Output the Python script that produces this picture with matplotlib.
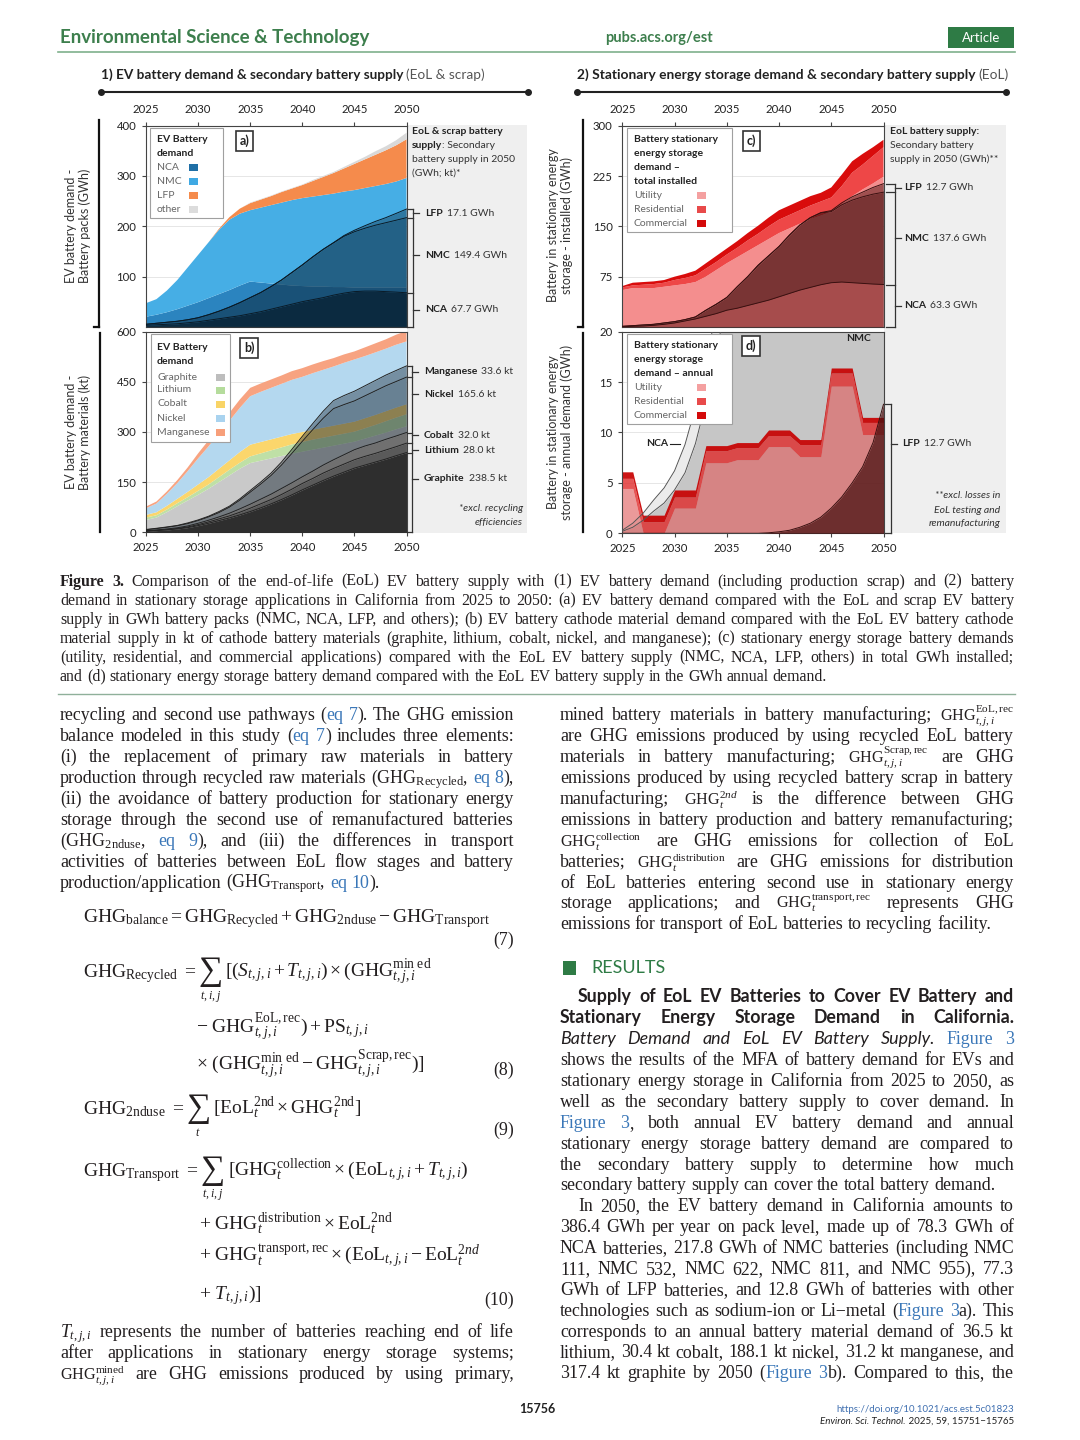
import matplotlib
matplotlib.use('Agg')
import matplotlib.pyplot as plt
import matplotlib.transforms as mtransforms
from matplotlib.patches import Rectangle
from matplotlib.lines import Line2D
import numpy as np

plt.rcParams['mathtext.fontset'] = 'custom'
plt.rcParams['mathtext.rm'] = 'Liberation Serif'
plt.rcParams['mathtext.it'] = 'Liberation Serif:italic'
plt.rcParams['mathtext.bf'] = 'Liberation Serif:bold'
plt.rcParams['mathtext.sf'] = 'Liberation Serif'
plt.rcParams['font.family'] = ['Lato', 'DejaVu Sans']

# ---------------------------------------------------------------- data
years = list(range(2025, 2051))
year_ticks = [2025, 2030, 2035, 2040, 2045, 2050]

# (a) EV battery demand, GWh
a_nca = [20, 24, 29, 35, 42, 49, 57, 65, 73, 82, 90, 88, 86, 84, 82, 81, 80, 80, 79, 79, 78, 78, 78, 78, 78, 78]
a_nmc = [27, 31, 43, 58, 76, 94, 111, 128, 140, 143, 142, 149, 156, 163, 170, 175, 179, 182, 186, 190, 194, 198, 202, 206, 211, 218]
a_lfp = [0, 0, 0, 0, 0, 0, 0, 2, 5, 10, 14, 16, 18, 21, 23, 26, 31, 36, 41, 46, 52, 57, 62, 67, 72, 77]
a_other = [0, 0, 0, 0, 0, 0, 0, 0, 0, 0, 1, 1, 1, 1, 1, 1, 2, 2, 2, 3, 4, 5, 7, 8, 10, 13]
a_eol_nca = [3, 4, 5, 6, 8, 10, 13, 16, 19, 22, 26, 30, 35, 40, 45, 50, 54, 58, 63, 67, 70, 71, 71, 70, 69, 67.7]
a_eol_nmc = [2, 3, 4, 5, 6, 8, 11, 15, 20, 26, 32, 38, 45, 53, 63, 73, 85, 96, 104, 113, 119, 125, 131, 137, 143, 149.4]
a_eol_lfp = [0, 0, 0, 0, 0, 0, 0, 0, 0, 0, 0, 0, 0, 0, 0, 0, 0, 0, 0.5, 1.5, 3, 5, 7.5, 10, 13.5, 17.1]
a_names = ['NCA', 'NMC', 'LFP', 'other']
a_eol_names = ['NCA', 'NMC', 'LFP']
a_eol_units = ['67.7 GWh', '149.4 GWh', '17.1 GWh']

# (b) EV battery materials, kt
b_graphite = [37, 44, 60, 78, 95, 112, 130, 150, 170, 190, 207, 214, 221, 228, 235, 241, 247, 253, 259, 265, 271, 280, 289, 298, 308, 317]
b_lithium = [7, 7, 8, 9, 10, 12, 13, 15, 17, 18, 20, 22, 24, 26, 28, 29, 30, 30, 30, 30, 30, 31, 32, 34, 35, 36]
b_cobalt = [8, 9, 11, 13, 16, 19, 22, 25, 28, 32, 35, 34, 33, 32, 31, 30, 30, 30, 30, 30, 30, 30, 30, 30, 30, 30]
b_nickel = [20, 26, 36, 47, 62, 78, 92, 106, 118, 132, 145, 150, 154, 158, 162, 165, 169, 173, 177, 182, 186, 186, 187, 187, 188, 188]
b_manganese = [5, 6, 7, 9, 11, 15, 18, 21, 24, 25, 25, 25, 25, 25, 26, 26, 26, 26, 25, 25, 24, 26, 27, 28, 30, 31]
b_eol_graphite = [3, 5, 7, 10, 14, 20, 27, 35, 43, 52, 62, 73, 85, 98, 112, 127, 141, 155, 168, 180, 192, 201, 210, 219, 229, 238.5]
b_eol_lithium = [0.5, 1, 1, 1.5, 2, 3, 4, 5, 6, 8, 10, 12, 13, 15, 17, 19, 20, 22, 23, 24, 25, 26, 26, 27, 27, 28]
b_eol_cobalt = [1, 1, 2, 2, 3, 4, 5, 6, 8, 10, 12, 14, 16, 18, 19, 20, 22, 24, 26, 28, 30, 31, 31, 32, 32, 32]
b_eol_nickel = [3, 4, 5, 6, 7, 8, 10, 13, 18, 26, 36, 45, 56, 70, 88, 106, 124, 140, 153, 150, 146, 150, 156, 160, 163, 165.6]
b_eol_manganese = [1, 1, 1, 1, 2, 2, 2, 3, 3, 4, 5, 6, 7, 9, 12, 15, 18, 21, 24, 27, 29, 30, 31, 32, 33, 33.6]
b_names = ['Graphite', 'Lithium', 'Cobalt', 'Nickel', 'Manganese']
b_eol_units = ['238.5 kt', '28.0 kt', '32.0 kt', '165.6 kt', '33.6 kt']

# (c) stationary storage, total installed GWh
c_utility = [55, 58, 58, 58, 60, 62, 64, 67, 75, 85, 95, 104, 113, 122, 131, 140, 147, 154, 161, 166, 172, 183, 195, 205, 214, 224]
c_residential = [4, 4, 5, 6, 6, 8, 9, 10, 12, 12, 13, 14, 16, 17, 19, 20, 20, 20, 20, 21, 21, 27, 35, 37, 41, 44]
c_commercial = [2, 4, 4, 4, 4, 5, 6, 7, 8, 9, 9, 10, 11, 12, 13, 14, 14, 14, 14, 13, 15, 17, 17, 16, 13, 11]
c_eol_nca = [0.5, 1, 1.5, 2.5, 4, 6, 9, 12, 16, 20, 25, 28, 32, 36, 40, 45, 50, 55, 59, 63, 66, 67, 66, 65, 64, 63.3]
c_eol_nmc = [0.5, 1, 1.5, 1.5, 2, 2, 2, 3, 9, 14, 19, 32, 43, 56, 66, 75, 87, 97, 104, 107, 106, 115, 123, 129, 134, 137.6]
c_eol_lfp = [0, 0, 0, 0, 0, 0, 0, 0, 0, 0, 0, 0, 0, 0, 0, 0, 0, 0, 0, 0.5, 1.5, 3, 5, 7, 10, 12.7]
c_names = ['Utility', 'Residential', 'Commercial']
c_eol_names = ['NCA', 'NMC', 'LFP']
c_eol_units = ['63.3 GWh', '137.6 GWh', '12.7 GWh']

# (d) stationary storage, annual demand GWh
d_utility = [4.45, 4.45, 0, 0, 0, 2.5, 2.5, 2.5, 7.0, 7.0, 7.0, 7.3, 7.3, 7.3, 8.6, 8.6, 8.6, 7.6, 7.6, 7.6, 14.6, 14.6, 14.6, 9.8, 9.8, 9.8]
d_residential = [1.0, 1.0, 1.15, 1.15, 1.15, 1.1, 1.1, 1.1, 1.2, 1.2, 1.2, 1.2, 1.2, 1.2, 1.1, 1.1, 1.1, 1.2, 1.2, 1.2, 1.3, 1.3, 1.3, 1.2, 1.2, 1.2]
d_commercial = [0.65, 0.65, 0.65, 0.65, 0.65, 0.7, 0.7, 0.7, 0.5, 0.5, 0.5, 0.5, 0.5, 0.5, 0.55, 0.55, 0.55, 0.5, 0.5, 0.5, 0.5, 0.5, 0.5, 0.5, 0.5, 0.5]
d_eol_lfp = [0, 0, 0, 0, 0, 0, 0, 0, 0, 0, 0, 0, 0, 0, 0.05, 0.15, 0.3, 0.6, 1.0, 1.6, 2.5, 3.6, 5.0, 6.6, 9.0, 12.8]
d_eol_nmc = [0.2, 0.6, 1.3, 2.2, 3.0, 4.3, 6.0, 8.9, 13, 18, 23, 25, 25, 25, 25, 25, 25, 25, 25, 25, 25, 25, 25, 25, 25, 25]
d_eol_nca = [0.1, 0.4, 0.7, 1.1, 1.5, 1.9, 2.8, 3.6, 4, 4, 4, 4, 4, 4, 4, 4, 4, 4, 4, 4, 4, 4, 4, 4, 4, 4]

# ---------------------------------------------------------------- figure helpers
W, H = 1080, 1440
fig = plt.figure(figsize=(W / 100, H / 100), dpi=100)
fig.patch.set_facecolor('white')
RND = fig.canvas.get_renderer()

SERIF = ['Liberation Serif', 'DejaVu Serif']
SANS = ['Lato', 'DejaVu Sans']
TXT = '#231f20'
LINK = '#3a77b8'
GREEN = '#2e7b45'
CS = 7.5   # chart annotation size


def fx(x):
    return x / W


def fy(y):
    return 1 - y / H


def tw(t):
    return t.get_window_extent(renderer=RND).width


def add_ax(l, t, r, b):
    return fig.add_axes([fx(l), fy(b), (r - l) / W, (b - t) / H])


def seq_text(x, yc, segs, size, family=SANS, ha='left', color='#333', zorder=5, va='center'):
    objs = []
    for s, kw in segs:
        k = dict(fontsize=size, family=family, color=color, va=va, ha='left', zorder=zorder)
        k.update(kw)
        t = fig.text(0, fy(yc), s, **k)
        objs.append((t, tw(t)))
    total = sum(w for _, w in objs)
    cx = x - total if ha == 'right' else (x - total / 2 if ha == 'center' else x)
    for t, w in objs:
        t.set_x(fx(cx))
        cx += w
    return objs


def make_word(word, size, family, weight, style, color, ybase):
    out = []
    for seg in word.split('§'):
        fam, wt, st, col = family, weight, style, color
        sz = size
        if seg.startswith('@'):
            col, fam, wt, st = LINK, SERIF, 'normal', 'normal'
            seg = seg[1:]
        elif seg.startswith('!'):
            wt = 'bold'
            seg = seg[1:]
        elif seg.startswith('%'):
            fam, st, wt = SANS, 'italic', 'normal'
            seg = seg[1:]
        if '$' in seg and '^' in seg:
            sz = size * 0.9
        t = fig.text(0, fy(ybase), seg, fontsize=sz, family=fam, fontweight=wt,
                     fontstyle=st, color=col, va='baseline', ha='left')
        out.append((t, tw(t)))
    return out


def draw_line(line, x0, x1, yc, size, family=SERIF, weight='normal', style='normal',
              justify=True, color=TXT):
    ybase = yc + size * 100 / 72 * 0.30
    s = size
    while True:
        words = [make_word(w, s, family, weight, style, color, ybase) for w in line.split(' ')]
        widths = [sum(w for _, w in ws) for ws in words]
        space = s * 100 / 72 * 0.25
        n = len(words)
        gap = (x1 - x0 - sum(widths)) / (n - 1) if (justify and n > 1) else space
        if gap >= space * 0.7 or s < size * 0.84:
            break
        for ws in words:
            for t, _ in ws:
                t.remove()
        s *= 0.98
    x = x0
    for ws, wd in zip(words, widths):
        cx = x
        for t, w in ws:
            t.set_x(fx(cx))
            cx += w
        x += wd + gap


def fig_line(xs, ys, **kw):
    fig.lines.append(Line2D([fx(v) for v in xs], [fy(v) for v in ys],
                            transform=fig.transFigure, **kw))


def fig_rect(x0, y0, x1, y1, **kw):
    fig.patches.append(Rectangle((fx(x0), fy(y1)), (x1 - x0) / W, (y1 - y0) / H,
                                 transform=fig.transFigure, **kw))


def style_ax(ax, ylim, yticks, top):
    ax.set_xlim(2025, 2050)
    ax.set_ylim(*ylim)
    ax.set_xticks(year_ticks)
    ax.set_yticks(yticks)
    if top:
        ax.xaxis.tick_top()
        ax.tick_params(axis='x', pad=5)
    else:
        ax.tick_params(axis='x', pad=4)
    ax.tick_params(length=3, width=0.8, color='#444', labelsize=8.2, labelcolor='#222', direction='out')
    ax.tick_params(axis='y', pad=4)
    for sp in ax.spines.values():
        sp.set_color('#444')
        sp.set_linewidth(0.8)
    ax.grid(axis='y', color='#e6e6e6', lw=0.7)
    ax.set_axisbelow(True)


def bracket(ax, xb, xcap, xtick, bounds, ticks):
    tr = mtransforms.blended_transform_factory(fig.transFigure, ax.transData)
    kw = dict(transform=tr, color='#333', lw=0.9, clip_on=False, zorder=6)
    ax.add_line(Line2D([fx(xb)] * 2, [min(bounds), max(bounds)], **kw))
    for b in bounds:
        ax.add_line(Line2D([fx(xcap), fx(xb)], [b, b], **kw))
    for v in ticks:
        ax.add_line(Line2D([fx(xb), fx(xtick)], [v, v], **kw))


def side_label(ax, x, v, bold, rest, size=CS):
    tr = mtransforms.blended_transform_factory(fig.transFigure, ax.transData)
    t1 = ax.text(fx(x), v, bold, transform=tr, fontsize=size, fontweight='bold', color='#222',
                 va='center', ha='left', clip_on=False)
    w = tw(t1)
    ax.text(fx(x + w + 4), v, rest, transform=tr, fontsize=size, color='#333',
            va='center', ha='left', clip_on=False)


def legend_box(x0, y0, x1, y1, title, ty, entries, ey, tx, swx, colors):
    fig_rect(x0, y0, x1, y1, fc='white', ec='#a0a0a0', lw=0.8, zorder=20)
    for s, y in zip(title, ty):
        fig.text(fx(tx), fy(y), s, fontsize=7.5, fontweight='bold', color='#222',
                 va='center', ha='left', zorder=21)
    for s, y, c in zip(entries, ey, colors):
        fig.text(fx(tx), fy(y), s, fontsize=7.5, color='#666', va='center', ha='left', zorder=21)
        fig_rect(swx, y - 3.5, swx + 9, y + 3.5, fc=c, ec='none', zorder=21)


def panel_tag(ax, xf, yf, s):
    ax.text(xf, yf, s, transform=ax.transAxes, fontsize=9, fontweight='bold', color='#222',
            ha='center', va='center', zorder=8,
            bbox=dict(boxstyle='square,pad=0.3', fc='white', ec='#333', lw=1.2))


def eol_stack(ax, series, colors, alphas, edge, zorder=3):
    base = np.zeros(len(years))
    tops = []
    for vals, col, al in zip(series, colors, alphas):
        top = base + np.array(vals, dtype=float)
        ax.fill_between(years, base, top, color=col, alpha=al, lw=0, zorder=zorder)
        ax.plot(years, top, color=edge, lw=0.7, zorder=zorder + 0.5)
        tops.append(top)
        base = top
    return tops


def equation(x, yb, parts, size):
    """parts: list of ('m', mathtext) or ('S', limits) pieces laid out left to right."""
    cx = x
    for kind, s in parts:
        if kind == 'm':
            t = fig.text(fx(cx), fy(yb), s, fontsize=size, family=SERIF, color=TXT,
                         va='baseline', ha='left')
            cx += tw(t) + 2
        else:
            t = fig.text(fx(cx), fy(yb + 3), '\u2211', fontsize=size * 1.75, family=SERIF,
                         color=TXT, va='baseline', ha='left')
            w = tw(t)
            fig.text(fx(cx + w / 2), fy(yb + 19), s, fontsize=size * 0.62, family=SERIF,
                     color=TXT, va='center', ha='center')
            cx += w + 3


# ---------------------------------------------------------------- page header
t = fig.text(fx(60), fy(37), 'Environmental Science & Technology', fontsize=13, family=SANS,
             fontweight='bold', color='#3d7f4d', va='center', ha='left')
t.set_fontsize(13 * 310 / tw(t))
t = fig.text(fx(605), fy(38), 'pubs.acs.org/est', fontsize=10, family=SANS, fontweight='bold',
             color='#3d7f4d', va='center', ha='left')
t.set_fontsize(10 * 107 / tw(t))
fig_rect(948, 27, 1014, 48, fc=GREEN, ec='none')
fig.text(fx(981), fy(38), 'Article', fontsize=9.5, family=SANS, color='white', va='center', ha='center')
fig_line([58, 1015], [52, 52], color='#7fb08c', lw=1.2)

# ---------------------------------------------------------------- chart group titles
for (x0, x1, yl, bold, rest, bw) in [
        (101, 528, 92, '1) EV battery demand & secondary battery supply', '(EoL & scrap)', 301),
        (577, 1006, 92, '2) Stationary energy storage demand & secondary battery supply', '(EoL)', 397)]:
    t = fig.text(fx(x0), fy(75), bold, fontsize=9, family=SANS, fontweight='bold', color='#222',
                 va='center', ha='left')
    s = 9 * bw / tw(t)
    t.set_fontsize(s)
    fig.text(fx(x0 + bw + 4), fy(75), rest, fontsize=s, family=SANS, color='#555', va='center', ha='left')
    fig_line([x0, x1], [yl, yl], color='#222', lw=1.5)
    fig.lines.append(Line2D([fx(x0), fx(x1)], [fy(yl)] * 2, transform=fig.transFigure, lw=0,
                            marker='o', ms=4, color='#222'))

# grey side areas
fig_rect(406.5, 125, 527, 533, fc='#efefef', ec='none', zorder=-1)
fig_rect(884, 125, 1006, 533, fc='#efefef', ec='none', zorder=-1)

# left y-label brackets
for xb, (y0, y1) in [(99, (120, 327)), (100, (333, 532)), (583, (120, 327)), (583, (333, 532))]:
    fig_line([xb, xb], [y0, y1], color='#111', lw=1.6)
fig_line([94, 99], [327, 327], color='#111', lw=1.6)
fig_line([578, 583], [327, 327], color='#111', lw=1.6)
for x, y, s in [(78, 226, 'EV battery demand -\nBattery packs (GWh)'),
                (78, 432, 'EV battery demand -\nBattery materials (kt)'),
                (560, 225, 'Battery in stationary energy\nstorage - installed (GWh)'),
                (560, 432, 'Battery in stationary energy\nstorage - annual demand (GWh)')]:
    fig.text(fx(x), fy(y), s, rotation=90, fontsize=9, color='#333', ha='center', va='center',
             multialignment='center', linespacing=1.2)

# ---------------------------------------------------------------- panel a
axa = add_ax(146, 125.7, 406.5, 326.8)
axa.stackplot(years, a_nca, a_nmc, a_lfp, a_other,
              colors=['#2b84bf', '#46aee5', '#f58b4c', '#d9d9d9'], lw=0, zorder=1)
ta = eol_stack(axa, [a_eol_nca, a_eol_nmc, a_eol_lfp], ['#071e2e', '#0d2f47', '#0d2f47'],
               [0.88, 0.6, 0.42], '#0a1a26')
style_ax(axa, (0, 400), [100, 200, 300, 400], top=True)
panel_tag(axa, 0.377, 0.924, 'a)')
bnds = [0] + [tp[-1] for tp in ta]
bracket(axa, 413, 407, 419, bnds, [(bnds[i] + bnds[i + 1]) / 2 for i in range(3)])
for i in range(3):
    side_label(axa, 425, (bnds[i] + bnds[i + 1]) / 2, a_eol_names[i], a_eol_units[i])
seq_text(412, 131, [('EoL & scrap battery', dict(fontweight='bold', color='#222'))], CS)
seq_text(412, 145, [('supply', dict(fontweight='bold', color='#222')), (': Secondary', {})], CS)
seq_text(412, 159, [('battery supply in 2050', {})], CS)
seq_text(412, 173, [('(GWh; kt)*', {})], CS)
legend_box(150, 128, 223, 218, ['EV Battery', 'demand'], [140, 154], a_names, [167, 181, 195, 209],
           157, 189, ['#1f6fa6', '#3fa9e3', '#f58b4c', '#dcdcdc'])

# ---------------------------------------------------------------- panel b
axb = add_ax(146, 331.7, 406.5, 532.3)
axb.stackplot(years, b_graphite, b_lithium, b_cobalt, b_nickel, b_manganese,
              colors=['#c9c9c9', '#bfe0a6', '#fbd66c', '#b4d8ef', '#f7a381'], lw=0, zorder=1)
tb = eol_stack(axb, [b_eol_graphite, b_eol_lithium, b_eol_cobalt, b_eol_nickel, b_eol_manganese],
               ['#262626', '#303030', '#353535', '#1e2c38', '#1e2c38'],
               [0.95, 0.72, 0.6, 0.5, 0.42], '#222222')
style_ax(axb, (0, 600), [0, 150, 300, 450, 600], top=False)
panel_tag(axb, 0.396, 0.919, 'b)')
bb = [0] + [tp[-1] for tp in tb]
b_label_pos = [160, 246, 291, 413, 480]
bracket(axb, 412, 407, 418, bb, b_label_pos)
for i in range(5):
    side_label(axb, 424, b_label_pos[i], b_names[i], b_eol_units[i])
for y, s in [(508, '*excl. recycling'), (522, 'efficiencies')]:
    fig.text(fx(523), fy(y), s, fontsize=CS, fontstyle='italic', color='#333', ha='right', va='center')
legend_box(151, 334, 230, 442, ['EV Battery', 'demand'], [348, 362], b_names,
           [377, 390, 404, 418, 432], 157, 216,
           ['#bdbdbd', '#b5dc9c', '#f9d466', '#a9d3ef', '#f79f7a'])

# ---------------------------------------------------------------- panel c
axc = add_ax(622.3, 125.7, 883.5, 327)
axc.stackplot(years, c_utility, c_residential, c_commercial,
              colors=['#f48e8e', '#ee4747', '#d90c0c'], lw=0, zorder=1)
tc = eol_stack(axc, [c_eol_nca, c_eol_nmc, c_eol_lfp], ['#5a0c0c', '#3a0606', '#3a0606'],
               [0.5, 0.66, 0.45], '#3a1010')
style_ax(axc, (0, 300), [75, 150, 225, 300], top=True)
panel_tag(axc, 0.493, 0.925, 'c)')
bc = [0] + [tp[-1] for tp in tc]
bracket(axc, 895, 886, 901, bc, [(bc[i] + bc[i + 1]) / 2 for i in range(3)])
for i in range(3):
    side_label(axc, 904, (bc[i] + bc[i + 1]) / 2, c_eol_names[i], c_eol_units[i])
seq_text(890, 131, [('EoL battery supply:', dict(fontweight='bold', color='#222'))], CS)
seq_text(890, 145, [('Secondary battery', {})], CS)
seq_text(890, 159, [('supply in 2050 (GWh)**', {})], CS)
legend_box(627, 128, 732, 232, ['Battery stationary', 'energy storage', 'demand \u2013', 'total installed'],
           [140, 154, 168, 182], c_names, [195, 209, 223], 634, 697,
           ['#f4a0a0', '#e84a4a', '#d40a0a'])

# ---------------------------------------------------------------- panel d
axd = add_ax(622.3, 331.7, 883.5, 533.3)
lf = np.array(d_eol_lfp, dtype=float)
nm_top = lf + np.array(d_eol_nmc, dtype=float)
nc_top = nm_top + np.array(d_eol_nca, dtype=float)
axd.fill_between(years, lf, nm_top, color='#c6c6c6', lw=0, zorder=1)
axd.fill_between(years, nm_top, nc_top, color='#ebebeb', lw=0, zorder=1)
u = np.array(d_utility, dtype=float)
r = u + np.array(d_residential, dtype=float)
cm = r + np.array(d_commercial, dtype=float)
axd.fill_between(years, 0, u, color='#e05c5c', alpha=0.62, lw=0, zorder=2)
axd.fill_between(years, u, r, color='#e02a2a', alpha=0.8, lw=0, zorder=2)
axd.fill_between(years, r, cm, color='#c80000', alpha=0.92, lw=0, zorder=2)
axd.plot(years, nm_top, color='#555', lw=0.7, zorder=4)
axd.plot(years, nc_top, color='#555', lw=0.7, zorder=4)
axd.fill_between(years, 0, lf, color='#4a1010', alpha=0.78, lw=0, zorder=3)
axd.plot(years, lf, color='#3a1010', lw=0.7, zorder=4)
style_ax(axd, (0, 20), [0, 5, 10, 15, 20], top=False)
panel_tag(axd, 0.493, 0.929, 'd)')
bracket(axd, 891, 885, 897, [0, d_eol_lfp[-1]], [8.9])
side_label(axd, 902, 8.9, 'LFP', '12.7 GWh')
axd.text(2047.6, 19.3, 'NMC', fontsize=CS, fontweight='bold', color='#222', ha='center', va='center', zorder=6)
axd.text(2029.4, 8.9, 'NCA', fontsize=CS, fontweight='bold', color='#222', ha='right', va='center', zorder=6)
axd.plot([2029.57, 2030.5], [8.9, 8.9], color='#222', lw=0.8, zorder=6)
for y, s in [(496, '**excl. losses in'), (510, 'EoL testing and'), (524, 'remanufacturing')]:
    fig.text(fx(1000), fy(y), s, fontsize=CS, fontstyle='italic', color='#333', ha='right', va='center')
legend_box(627, 334, 732, 424, ['Battery stationary', 'energy storage', 'demand \u2013 annual'],
           [346, 360, 373], c_names, [387, 401, 415], 634, 697,
           ['#f4a0a0', '#e84a4a', '#d40a0a'])

# ---------------------------------------------------------------- caption
cap = [
    '!Figure !3. Comparison of the end-of-life (EoL) EV battery supply with (1) EV battery demand (including production scrap) and (2) battery',
    'demand in stationary storage applications in California from 2025 to 2050: (a) EV battery demand compared with the EoL and scrap EV battery',
    'supply in GWh battery packs (NMC, NCA, LFP, and others); (b) EV battery cathode material demand compared with the EoL EV battery cathode',
    'material supply in kt of cathode battery materials (graphite, lithium, cobalt, nickel, and manganese); (c) stationary energy storage battery demands',
    '(utility, residential, and commercial applications) compared with the EoL EV battery supply (NMC, NCA, LFP, others) in total GWh installed;',
    'and (d) stationary energy storage battery demand compared with the EoL EV battery supply in the GWh annual demand.',
]
for i, ln in enumerate(cap):
    draw_line(ln, 60, 1014, 581 + i * 19.0, 11.4, justify=(i < len(cap) - 1))
fig_line([58, 1015], [694, 694], color='#8fb09a', lw=1.0)

# ---------------------------------------------------------------- left column
BS = 12.9
LX0, LX1 = 60, 514
left_top = [
    'recycling and second use pathways (§@eq @7§). The GHG emission',
    'balance modeled in this study (§@eq @7§) includes three elements:',
    '(i) the replacement of primary raw materials in battery',
    r'production through recycled raw materials (GHG$_{\mathrm{Recycled}}$, @eq @8§),',
    '(ii) the avoidance of battery production for stationary energy',
    'storage through the second use of remanufactured batteries',
    r'(GHG$_{\mathrm{2nduse}}$, @eq @9§), and (iii) the differences in transport',
    'activities of batteries between EoL flow stages and battery',
    r'production/application (GHG$_{\mathrm{Transport}}$, @eq @10§).',
]
for i, ln in enumerate(left_top):
    draw_line(ln, LX0, LX1, 715 + i * 20.9, BS, justify=(i < len(left_top) - 1))

ES = 14
equation(83, 922, [('m', r'$\mathrm{GHG}_{\mathrm{balance}} = \mathrm{GHG}_{\mathrm{Recycled}} + \mathrm{GHG}_{\mathrm{2nduse}} - \mathrm{GHG}_{\mathrm{Transport}}$')], ES)
equation(83, 977, [('m', r'$\mathrm{GHG}_{\mathrm{Recycled}}\ =\ $'), ('S', r'$t,i,j$'),
                   ('m', r'$[(S_{t,j,i} + T_{t,j,i}) \times (\mathrm{GHG}_{t,j,i}^{\mathrm{min\ ed}}$')], ES)
equation(196, 1033, [('m', r'$-\ \mathrm{GHG}_{t,j,i}^{\mathrm{EoL,rec}}) + \mathrm{PS}_{t,j,i}$')], ES)
equation(196, 1071, [('m', r'$\times\ (\mathrm{GHG}_{t,j,i}^{\mathrm{min\ ed}} - \mathrm{GHG}_{t,j,i}^{\mathrm{Scrap,rec}})]$')], ES)
equation(83, 1114, [('m', r'$\mathrm{GHG}_{\mathrm{2nduse}}\ =\ $'), ('S', r'$t$'),
                    ('m', r'$[\mathrm{EoL}_{t}^{\mathrm{2nd}} \times \mathrm{GHG}_{t}^{\mathrm{2nd}}]$')], ES)
equation(83, 1176, [('m', r'$\mathrm{GHG}_{\mathrm{Transport}}\ =\ $'), ('S', r'$t,i,j$'),
                    ('m', r'$[\mathrm{GHG}_{t}^{\mathrm{collection}} \times (\mathrm{EoL}_{t,j,i} + T_{t,j,i})$')], ES)
equation(199, 1230, [('m', r'$+\ \mathrm{GHG}_{t}^{\mathrm{distribution}} \times \mathrm{EoL}_{t}^{\mathrm{2nd}}$')], ES)
equation(199, 1262, [('m', r'$+\ \mathrm{GHG}_{t}^{\mathrm{transport,rec}} \times (\mathrm{EoL}_{t,j,i} - \mathrm{EoL}_{t}^{2nd}$')], ES)
equation(199, 1299, [('m', r'$+\ T_{t,j,i})]$')], ES)
for yb, s in [(945, '(7)'), (1075, '(8)'), (1135, '(9)'), (1305, '(10)')]:
    fig.text(fx(514), fy(yb), s, fontsize=BS, family=SERIF, color=TXT, va='baseline', ha='right')

left_bot = [
    r'$T_{t,j,i}$ represents the number of batteries reaching end of life',
    'after applications in stationary energy storage systems;',
    r'$\mathrm{GHG}_{t,j,i}^{\mathrm{mined}}$ are GHG emissions produced by using primary,',
]
for i, ln in enumerate(left_bot):
    draw_line(ln, LX0, LX1, 1332 + i * 20.7, BS, justify=True)

# ---------------------------------------------------------------- right column
RX0, RX1 = 560, 1014
right_top = [
    r'mined battery materials in battery manufacturing; $\mathrm{GHG}_{t,j,i}^{\mathrm{EoL,rec}}$',
    'are GHG emissions produced by using recycled EoL battery',
    r'materials in battery manufacturing; $\mathrm{GHG}_{t,j,i}^{\mathrm{Scrap,rec}}$ are GHG',
    'emissions produced by using recycled battery scrap in battery',
    r'manufacturing; $\mathrm{GHG}_{t}^{2nd}$ is the difference between GHG',
    'emissions in battery production and battery remanufacturing;',
    r'$\mathrm{GHG}_{t}^{\mathrm{collection}}$ are GHG emissions for collection of EoL',
    r'batteries; $\mathrm{GHG}_{t}^{\mathrm{distribution}}$ are GHG emissions for distribution',
    'of EoL batteries entering second use in stationary energy',
    r'storage applications; and $\mathrm{GHG}_{t}^{\mathrm{transport,rec}}$ represents GHG',
    'emissions for transport of EoL batteries to recycling facility.',
]
for i, ln in enumerate(right_top):
    draw_line(ln, RX0, RX1, 715 + i * 20.9, BS, justify=(i < len(right_top) - 1))

fig_rect(563, 961, 576, 975, fc=GREEN, ec='none')
fig.text(fx(591), fy(968), 'RESULTS', fontsize=13, family=SANS, color=GREEN, va='center', ha='left')
draw_line('Supply of EoL EV Batteries to Cover EV Battery and', 578, RX1, 997, 12.8,
          family=SANS, weight='bold')
draw_line('Stationary Energy Storage Demand in California.', RX0, RX1, 1018, 12.8,
          family=SANS, weight='bold')
results = [
    ('%Battery %Demand %and %EoL %EV %Battery %Supply. @Figure @3', RX0, True),
    ('shows the results of the MFA of battery demand for EVs and', RX0, True),
    ('stationary energy storage in California from 2025 to 2050, as', RX0, True),
    ('well as the secondary battery supply to cover demand. In', RX0, True),
    ('@Figure @3§, both annual EV battery demand and annual', RX0, True),
    ('stationary energy storage battery demand are compared to', RX0, True),
    ('the secondary battery supply to determine how much', RX0, True),
    ('secondary battery supply can cover the total battery demand.', RX0, False),
    ('In 2050, the EV battery demand in California amounts to', 578, True),
    ('386.4 GWh per year on pack level, made up of 78.3 GWh of', RX0, True),
    ('NCA batteries, 217.8 GWh of NMC batteries (including NMC', RX0, True),
    ('111, NMC 532, NMC 622, NMC 811, and NMC 955), 77.3', RX0, True),
    ('GWh of LFP batteries, and 12.8 GWh of batteries with other', RX0, True),
    ('technologies such as sodium-ion or Li\u2212metal (§@Figure @3§a). This', RX0, True),
    ('corresponds to an annual battery material demand of 36.5 kt', RX0, True),
    ('lithium, 30.4 kt cobalt, 188.1 kt nickel, 31.2 kt manganese, and', RX0, True),
    ('317.4 kt graphite by 2050 (§@Figure @3§b). Compared to this, the', RX0, True),
]
for i, (ln, x0, j) in enumerate(results):
    draw_line(ln, x0, RX1, 1039 + i * 20.87, BS, justify=j)

# ---------------------------------------------------------------- footer
fig.text(fx(537), fy(1409), '15756', fontsize=9, family=SANS, fontweight='bold', color='#222',
         ha='center', va='center')
fig.text(fx(1014), fy(1409), 'https://doi.org/10.1021/acs.est.5c01823', fontsize=7, family=SANS,
         color='#3f6fb0', ha='right', va='center')
seq_text(1014, 1421, [('Environ. Sci. Technol.', dict(fontstyle='italic')),
                      (' 2025, 59, 15751\u221215765', {})], 7, color='#222', ha='right')

fig.savefig('out.png', dpi=100)
